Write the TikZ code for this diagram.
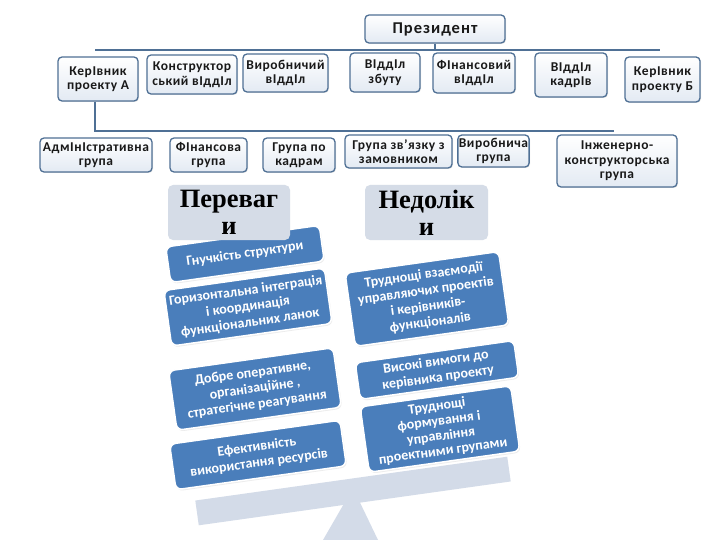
\documentclass[tikz,border=0pt]{standalone}
\usepackage{fontspec}
\setmainfont{Carlito}
\newfontfamily\serifb{Liberation Serif}
\usetikzlibrary{shadows}
\definecolor{orgline}{HTML}{4F7095}
\definecolor{orgfill}{HTML}{E3EAF3}
\definecolor{bluebx}{HTML}{4A7EBB}
\definecolor{greybx}{HTML}{D5DCE7}
\definecolor{plankc}{HTML}{D3DBE8}
\tikzset{
  orgbox/.style={draw=orgline, line width=1.3pt, rounded corners=4pt,
    top color=white, bottom color=orgfill, align=center, text=black!90,
    font=\addfontfeatures{LetterSpace=4}\fontsize{13.5}{14.5}\selectfont\bfseries,
    inner sep=1pt, drop shadow={opacity=0.2, shadow xshift=1pt, shadow yshift=-1pt}},
  bluebox/.style={fill=bluebx, draw=white, line width=1.5pt, rounded corners=6pt,
    rotate=8, align=center, text=white, font=\fontsize{14}{16}\selectfont\bfseries,
    inner sep=1pt, drop shadow={opacity=0.15, shadow xshift=1pt, shadow yshift=-1.5pt}},
  greybox/.style={fill=greybx, rounded corners=5pt, align=center, text=black,
    font=\serifb\fontsize{26.5}{27}\selectfont\bfseries},
  conn/.style={draw=orgline, line width=2pt},
}
\begin{document}
\begin{tikzpicture}[x=1pt,y=-1pt]
\useasboundingbox (0,0) rectangle (720,540);
\fill[white] (0,0) rectangle (720,540);
% balance
\fill[plankc] (323,540) -- (378,540) -- (353,488) -- cycle;
\node[fill=plankc, rotate=8, minimum width=315pt, minimum height=25pt, inner sep=0pt] (plank) at (353,491) {};
% org chart
\node[orgbox, minimum width=140pt, minimum height=28pt, font=\addfontfeatures{LetterSpace=6}\fontsize{16.5}{17}\selectfont\bfseries] (pres) at (435,29) {Президент};
\coordinate (tl) at (95,50);
\coordinate (tr) at (660,50);
\draw[conn] (tl) -- (tr);
\draw[conn] (pres.south) -- (pres.south |- tl);
\node[orgbox, minimum width=80pt, minimum height=44pt] (kA) at (98,79) {КерІвник\\проекту А};
\node[orgbox, minimum width=90pt, minimum height=39pt] (kons) at (192,74.5) {Конструктор\\ський вІддІл};
\node[orgbox, minimum width=85pt, minimum height=38pt] (vyr) at (285.5,73) {Виробничий\\вІддІл};
\node[orgbox, minimum width=70pt, minimum height=39pt] (zbut) at (385,72.5) {ВІддІл\\збуту};
\node[orgbox, minimum width=82pt, minimum height=40pt] (fin) at (474,73) {ФІнансовий\\вІддІл};
\node[orgbox, minimum width=72pt, minimum height=44pt] (kadry) at (571,75) {ВІддІл\\кадрІв};
\node[orgbox, minimum width=75pt, minimum height=45pt] (kB) at (662.5,79.5) {КерІвник\\проекту Б};
\coordinate (bl) at (95,131);
\coordinate (br) at (614,131);
\draw[conn] (kA.south -| bl) -- (bl) -- (br);
\node[orgbox, minimum width=112pt, minimum height=34pt] (adm) at (96,155) {АдмІнІстративна\\група};
\node[orgbox, minimum width=77pt, minimum height=34pt] (fing) at (208.5,155) {ФІнансова\\група};
\node[orgbox, minimum width=72pt, minimum height=34pt] (grk) at (299,155) {Група по\\кадрам};
\node[orgbox, minimum width=107pt, minimum height=33pt] (zv) at (398.5,151.5) {Група зв’язку з\\замовником};
\node[orgbox, minimum width=63pt, minimum height=32pt] (vyrg) at (493.5,151) {Виробнича\\група};
\node[orgbox, minimum width=120pt, minimum height=52pt] (ing) at (617,161) {Інженерно-\\конструкторська\\група};
% blue boxes
\node[bluebox, minimum width=155pt, minimum height=36pt] (l1) at (245,254) {Гнучкість структури};
\node[bluebox, minimum width=162pt, minimum height=56pt] (l2) at (248,307) {Горизонтальна інтеграція\\і координація\\функціональних ланок};
\node[bluebox, minimum width=166pt, minimum height=60pt] (l3) at (255,389) {Добре оперативне,\\організаційне ,\\стратегічне реагування};
\node[bluebox, minimum width=172pt, minimum height=46pt] (l4) at (258,455) {Ефективність\\використання ресурсів};
\node[bluebox, minimum width=155pt, minimum height=74pt] (r1) at (427,299) {Труднощі взаємодії\\управляючих проектів\\і керівників-\\функціоналів};
\node[bluebox, minimum width=160pt, minimum height=37pt] (r2) at (437,370) {Високі вимоги до\\керівника проекту};
\node[bluebox, minimum width=152pt, minimum height=66pt, font=\fontsize{14}{15}\selectfont\bfseries] (r3) at (440,429) {Труднощі\\формування і\\управління\\проектними групами};
% grey headers
\node[greybox, minimum width=122pt, minimum height=55pt] (per) at (229,212.5) {Переваг\\и};
\node[greybox, minimum width=123pt, minimum height=55pt] (ned) at (426.5,212.5) {Недолік\\и};
\end{tikzpicture}
\end{document}
